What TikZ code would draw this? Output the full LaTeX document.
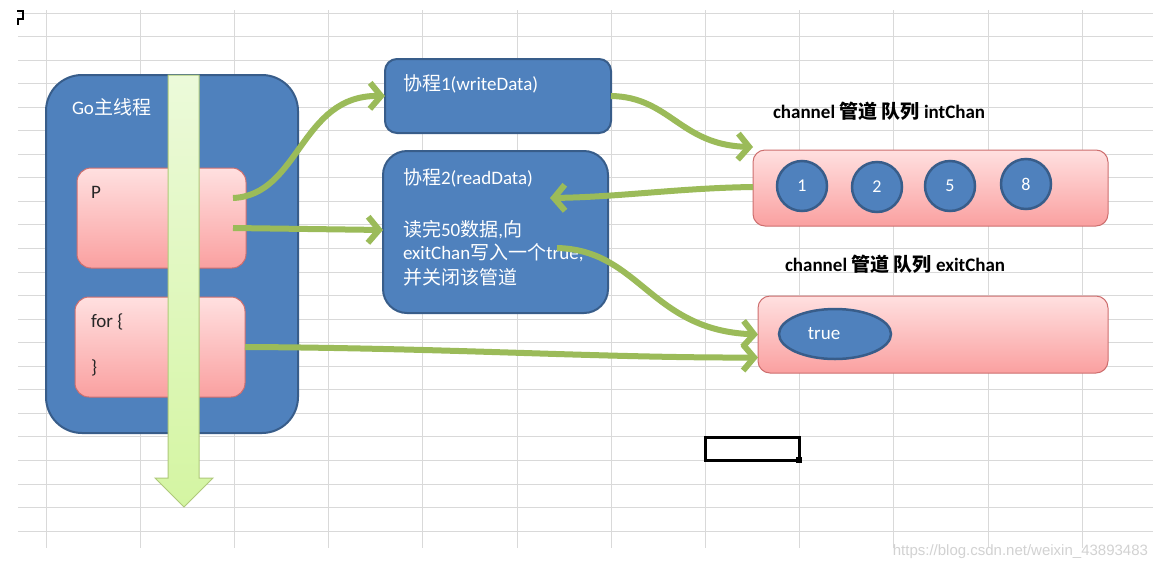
\documentclass[tikz,border=0pt]{standalone}
\usepackage{fontspec}
\setmainfont{Carlito}
\newfontfamily\cjkfont{Noto Sans CJK SC}
\newfontfamily\wmfont{Liberation Sans}
\newcommand{\zh}[1]{{\cjkfont #1}}
\usetikzlibrary{arrows.meta,shapes.geometric}
\definecolor{goblue}{RGB}{79,129,189}
\definecolor{goblueline}{RGB}{56,93,138}
\definecolor{flowgreen}{RGB}{155,187,89}
\definecolor{pinktop}{RGB}{255,224,224}
\definecolor{pinkbot}{RGB}{250,160,160}
\definecolor{pinkline}{RGB}{205,110,110}
\definecolor{gridgray}{RGB}{217,217,217}
\definecolor{limetop}{RGB}{236,250,218}
\definecolor{limebot}{RGB}{212,245,162}

\begin{document}
\begin{tikzpicture}[x=1pt, y=-1pt,
    every node/.style={inner sep=0pt, outer sep=0pt},
    bluebox/.style={draw=goblueline, line width=2pt, fill=goblue},
    pinkbox/.style={draw=pinkline, line width=1pt, top color=pinktop, bottom color=pinkbot, rounded corners=14pt},
    ball/.style={circle, draw=goblueline, line width=2.5pt, fill=goblue, minimum size=50pt, text=white, font=\fontsize{18}{18}\selectfont},
    flow/.style={draw=flowgreen, line width=6pt, -{Straight Barb[length=11pt,width=26pt]}},
    wtext/.style={text=white, font=\fontsize{19}{24}\selectfont, anchor=west},
    dtext/.style={text=black!85, font=\fontsize{19}{24}\selectfont, anchor=west},
    chantitle/.style={font=\bfseries\fontsize{19}{22}\selectfont, anchor=west}]

    % Page and grid
    \fill[white] (0,0) rectangle (1157,571);
    \useasboundingbox (0,0) rectangle (1157,571);
    \foreach \i in {0,...,22}
        \draw[gridgray, line width=1pt] (18,{13+23.55*\i}) -- (1153,{13+23.55*\i});
    \foreach \i in {0,...,11}
        \draw[gridgray, line width=1pt] ({46+94.2*\i},10) -- ({46+94.2*\i},548);
    \draw[line width=2.5pt] (17,11) -- (23,11) -- (23,19) -- (18,19) -- (18,25);

    % Main thread
    \node[bluebox, rounded corners=36pt, minimum width=252pt, minimum height=358pt] (mainthread) at (172,254) {};
    \node[wtext] (golabel) at (72,107) {Go\zh{主线程}};
    \node[pinkbox, minimum width=169pt, minimum height=100pt] (pbox) at (161.5,218) {};
    \node[dtext] (plabel) at (91,192) {P};
    \node[pinkbox, minimum width=170pt, minimum height=100pt] (forbox) at (160,347) {};
    \node[dtext] (forlabel) at (91,322) {for \{};
    \node[dtext] (forend) at (91,368) {\}};
    \draw[draw=flowgreen!80, line width=1pt, top color=limetop, bottom color=limebot]
        (168,75) -- (199,75) -- (199,478) -- (213,478) -- (184,507) -- (155,478) -- (168,478) -- cycle;

    % Goroutines
    \node[bluebox, rounded corners=12pt, minimum width=226pt, minimum height=74pt] (co1) at (498,96) {};
    \node[wtext] (co1title) at (403,84) {\zh{协程}1(writeData)};
    \node[bluebox, rounded corners=24pt, minimum width=225pt, minimum height=162pt] (co2) at (495.5,232) {};
    \node[wtext] (co2title) at (403,178) {\zh{协程}2(readData)};
    \node[wtext] (co2line1) at (403,230) {\zh{读完}50\zh{数据},\zh{向}};
    \node[wtext] (co2line2) at (403,253) {exitChan\zh{写入一个}true,};
    \node[wtext] (co2line3) at (403,277) {\zh{并关闭该管道}};

    % Channels
    \node[chantitle] (inttitle) at (773,111) {channel \zh{管道} \zh{队列} intChan};
    \node[pinkbox, rounded corners=12pt, minimum width=355pt, minimum height=76pt] (intchan) at (930.5,188) {};
    \foreach \v/\x/\y in {1/802/186, 2/877/187, 5/950/186, 8/1026/184}
        \node[ball] (val\v) at (\x,\y) {\v};
    \node[chantitle] (exittitle) at (785,264) {channel \zh{管道} \zh{队列} exitChan};
    \node[pinkbox, rounded corners=12pt, minimum width=350pt, minimum height=77pt] (exitchan) at (933,334.5) {};
    \node[ellipse, draw=goblueline, line width=2.5pt, fill=goblue, minimum width=112pt, minimum height=50pt] (flag) at (835,334) {};
    \node[text=white, font=\fontsize{19}{19}\selectfont] (flaglabel) at ([xshift=-11pt]flag.center) {true};

    % Connections
    \draw[flow] ([xshift=-13pt,yshift=20pt]pbox.east) .. controls (300,195) and (300,95) .. (co1.west);
    \draw[flow] ([xshift=-13pt,yshift=-10pt]pbox.east) -- ([yshift=2pt]co2.west);
    \draw[flow] (co1.east) .. controls (670,97) and (680,145) .. ([yshift=3pt]intchan.north west);
    \draw[flow] ([yshift=1pt]intchan.west) .. controls (680,188) and (620,197) .. ([xshift=-58pt,yshift=34pt]co2.east);
    \draw[flow] ([xshift=-51pt,yshift=-16pt]co2.east) .. controls (640,250) and (650,330) .. (exitchan.west);
    \draw[flow] (forbox.east) .. controls (450,348) and (600,358) .. ([yshift=-23pt]exitchan.west);

    % Selected cell and watermark
    \node[draw, line width=3pt, minimum width=94pt, minimum height=23pt] (cell) at (752,448.5) {};
    \node[fill=black, minimum size=6pt] (cellhandle) at (cell.south east) {};
    \node[text=gray!35, font=\wmfont\fontsize{15}{15}\selectfont, anchor=east] (watermark) at (1148,552) {https://blog.csdn.net/weixin\_43893483};
\end{tikzpicture}
\end{document}
